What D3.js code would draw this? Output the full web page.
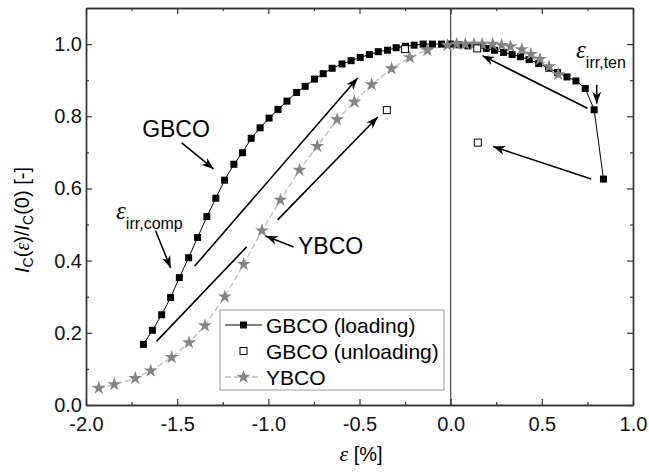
<!DOCTYPE html>
<html><head><meta charset="utf-8">
<script src="https://cdn.jsdelivr.net/npm/d3@7/dist/d3.min.js"></script>
<style>
body{margin:0;background:#fff;}
svg{display:block;font-family:"Liberation Sans",Arial,sans-serif;}
</style></head>
<body><svg id="c" width="649" height="472"></svg>
<script>
// ---- data ----
const gbcoLoadX = [-1.685,-1.636,-1.585,-1.536,-1.488,-1.437,-1.388,-1.337,-1.288,-1.240,-1.189,-1.142,-1.094,-1.045,-0.996,-0.947,-0.898,-0.845,-0.798,-0.747,-0.699,-0.650,-0.596,-0.546,-0.496,-0.446,-0.397,-0.346,-0.299,-0.248,-0.200,-0.151,-0.100,-0.050,0.000,0.045,0.095,0.145,0.195,0.240,0.290,0.337,0.383,0.430,0.483,0.537,0.586,0.638,0.687,0.738,0.787,0.838];
const gbcoLoadY = [0.168,0.207,0.250,0.298,0.353,0.408,0.464,0.522,0.573,0.623,0.667,0.699,0.739,0.768,0.795,0.819,0.842,0.866,0.883,0.903,0.918,0.933,0.945,0.954,0.963,0.971,0.979,0.983,0.990,0.994,0.997,1.000,1.000,1.000,1.000,0.998,0.995,0.990,0.988,0.983,0.977,0.971,0.965,0.957,0.946,0.933,0.921,0.909,0.898,0.877,0.818,0.626];
const gbcoUnloadX = [-0.350,-0.251,0.146,0.149];
const gbcoUnloadY = [0.817,0.986,0.988,0.727];
const ybcoX = [-1.930,-1.845,-1.730,-1.645,-1.530,-1.435,-1.348,-1.239,-1.135,-1.035,-0.934,-0.829,-0.732,-0.623,-0.528,-0.433,-0.324,-0.224,-0.127,-0.018,0.033,0.080,0.128,0.173,0.230,0.280,0.328,0.390,0.440,0.490,0.540,0.590];
const ybcoY = [0.047,0.057,0.074,0.095,0.132,0.173,0.220,0.300,0.390,0.483,0.568,0.651,0.717,0.791,0.840,0.888,0.932,0.963,0.983,0.997,1.000,1.000,1.000,1.000,1.000,0.997,0.993,0.985,0.972,0.958,0.938,0.916];
const xMajorTicks = [-2.0,-1.5,-1.0,-0.5,0.0,0.5,1.0];
const xMinorTicks = [-1.75,-1.25,-0.75,-0.25,0.25,0.75];
const yMajorTicks = [0.0,0.2,0.4,0.6,0.8,1.0];
const yMinorTicks = [0.1,0.3,0.5,0.7,0.9];
const legendLabels = ["GBCO (loading)","GBCO (unloading)","YBCO"];
// annotation arrows in data units [x1,y1,x2,y2,head]
const arrows = [
  [-1.404,0.385,-0.510,0.906,1],
  [-1.612,0.177,-1.119,0.438,0],
  [-0.949,0.513,-0.400,0.798,1],
  [0.750,0.822,0.174,0.968,1],
  [0.771,0.626,0.233,0.716,1],
  [-1.475,0.726,-1.300,0.654,1],
  [-1.618,0.482,-1.536,0.380,1],
  [-0.861,0.438,-1.015,0.468,1],
  [0.801,0.887,0.801,0.835,1]
];

const svg = d3.select("#c");
const x = d3.scaleLinear().domain([-2.0,1.0]).range([86,633]);
const y = d3.scaleLinear().domain([0,1.1]).range([405,8]);
const fmt = d => d.toFixed(1);

// marker
svg.append("defs").append("marker").attr("id","ah")
  .attr("markerUnits","userSpaceOnUse").attr("orient","auto")
  .attr("markerWidth",14).attr("markerHeight",12)
  .attr("viewBox","-12 -6 14 12").attr("refX",0).attr("refY",0)
  .append("path").attr("d","M0,0 L-12,-4.5 L-8.5,0 L-12,4.5 Z").attr("fill","#000");

// vertical zero line
svg.append("line").attr("x1",x(0)).attr("x2",x(0)).attr("y1",y(0)).attr("y2",y(1.1))
  .attr("stroke","#444").attr("stroke-width",1.2);

// axes
function styleAxis(g){
  g.selectAll("path.domain").attr("stroke","#333").attr("stroke-width",1.4);
  g.selectAll(".tick line").attr("stroke","#333").attr("stroke-width",1.2);
  g.selectAll("text").attr("font-size",20).attr("fill","#111").attr("font-family","Liberation Sans, Arial, sans-serif");
}
svg.append("g").attr("transform",`translate(0,${y(0)})`)
  .call(d3.axisBottom(x).tickValues(xMajorTicks).tickSize(-6).tickSizeOuter(0).tickPadding(12).tickFormat(fmt)).call(styleAxis);
svg.append("g").attr("transform",`translate(0,${y(0)})`)
  .call(d3.axisBottom(x).tickValues(xMinorTicks).tickSize(-3).tickSizeOuter(0).tickFormat("")).call(styleAxis);
svg.append("g").attr("transform",`translate(0,${y(1.1)})`)
  .call(d3.axisTop(x).tickValues(xMajorTicks).tickSize(-6).tickSizeOuter(0).tickFormat("")).call(styleAxis);
svg.append("g").attr("transform",`translate(0,${y(1.1)})`)
  .call(d3.axisTop(x).tickValues(xMinorTicks).tickSize(-3).tickSizeOuter(0).tickFormat("")).call(styleAxis);
svg.append("g").attr("transform",`translate(${x(-2)},0)`)
  .call(d3.axisLeft(y).tickValues(yMajorTicks).tickSize(-6).tickSizeOuter(0).tickPadding(4).tickFormat(fmt)).call(styleAxis);
svg.append("g").attr("transform",`translate(${x(-2)},0)`)
  .call(d3.axisLeft(y).tickValues(yMinorTicks).tickSize(-3).tickSizeOuter(0).tickFormat("")).call(styleAxis);
svg.append("g").attr("transform",`translate(${x(1)},0)`)
  .call(d3.axisRight(y).tickValues(yMajorTicks).tickSize(-6).tickSizeOuter(0).tickFormat("")).call(styleAxis);
svg.append("g").attr("transform",`translate(${x(1)},0)`)
  .call(d3.axisRight(y).tickValues(yMinorTicks).tickSize(-3).tickSizeOuter(0).tickFormat("")).call(styleAxis);

// data
const ybco = ybcoX.map((v,i)=>[v,ybcoY[i]]);
const gl = gbcoLoadX.map((v,i)=>[v,gbcoLoadY[i]]);
const gu = gbcoUnloadX.map((v,i)=>[v,gbcoUnloadY[i]]);
const line = d3.line().x(d=>x(d[0])).y(d=>y(d[1]));
const star = d3.symbol().type(d3.symbolStar).size(60);

svg.append("path").datum(ybco).attr("d",line).attr("fill","none")
  .attr("stroke","#bdbdbd").attr("stroke-width",1.3).attr("stroke-dasharray","6,3");
svg.append("path").datum(gl).attr("d",line).attr("fill","none")
  .attr("stroke","#000").attr("stroke-width",1);
svg.append("g").selectAll("rect").data(gl).join("rect")
  .attr("x",d=>x(d[0])-3.5).attr("y",d=>y(d[1])-3.5).attr("width",7).attr("height",7).attr("fill","#000");
svg.append("g").selectAll("path").data(ybco).join("path")
  .attr("transform",d=>`translate(${x(d[0])},${y(d[1])})`).attr("d",star).attr("fill","#848484");
svg.append("g").selectAll("rect").data(gu).join("rect")
  .attr("x",d=>x(d[0])-3.5).attr("y",d=>y(d[1])-3.5).attr("width",7).attr("height",7)
  .attr("fill","#fff").attr("stroke","#000").attr("stroke-width",1);

// arrows
svg.append("g").selectAll("line").data(arrows).join("line")
  .attr("x1",d=>x(d[0])).attr("y1",d=>y(d[1])).attr("x2",d=>x(d[2])).attr("y2",d=>y(d[3]))
  .attr("stroke","#000").attr("stroke-width",1.6)
  .attr("marker-end",d=>d[4]?"url(#ah)":null);

// annotation labels
svg.append("text").attr("x",176).attr("y",137).attr("text-anchor","middle").attr("font-size",23).text("GBCO");
svg.append("text").attr("x",298).attr("y",254).attr("font-size",23).text("YBCO");
const e1 = svg.append("text").attr("x",116).attr("y",219);
e1.append("tspan").attr("font-family","Liberation Serif, serif").attr("font-style","italic").attr("font-size",25).text("ε");
e1.append("tspan").attr("font-size",16).attr("dy",10).text("irr,comp");
const e2 = svg.append("text").attr("x",576).attr("y",58);
e2.append("tspan").attr("font-family","Liberation Serif, serif").attr("font-style","italic").attr("font-size",25).text("ε");
e2.append("tspan").attr("font-size",16).attr("dy",10).text("irr,ten");

// axis titles
const xt = svg.append("text").attr("x",361).attr("y",461).attr("text-anchor","middle").attr("font-size",20);
xt.append("tspan").attr("font-family","Liberation Serif, serif").attr("font-style","italic").attr("font-size",22).text("ε");
xt.append("tspan").text(" [%]");
const yt = svg.append("text").attr("transform","translate(29,220) rotate(-90)").attr("text-anchor","middle").attr("font-size",20);
yt.append("tspan").attr("font-style","italic").text("I");
yt.append("tspan").attr("font-size",14).attr("dy",4).text("C");
yt.append("tspan").attr("dy",-4).text("(");
yt.append("tspan").attr("font-family","Liberation Serif, serif").attr("font-style","italic").text("ε");
yt.append("tspan").text(")/");
yt.append("tspan").attr("font-style","italic").text("I");
yt.append("tspan").attr("font-size",14).attr("dy",4).text("C");
yt.append("tspan").attr("dy",-4).text("(0) [-]");

// legend
const lg = svg.append("g");
lg.append("rect").attr("x",220).attr("y",310).attr("width",224).attr("height",80)
  .attr("fill","#fff").attr("stroke","#999").attr("stroke-width",1);
const rowY = [325,351,377];
legendLabels.forEach((t,i)=>{
  const cy = rowY[i];
  if(i===0){
    lg.append("line").attr("x1",225).attr("x2",262).attr("y1",cy).attr("y2",cy).attr("stroke","#000").attr("stroke-width",1.2);
    lg.append("rect").attr("x",243.5-3.5).attr("y",cy-3.5).attr("width",7).attr("height",7).attr("fill","#000");
  } else if(i===1){
    lg.append("rect").attr("x",243.5-3.5).attr("y",cy-3.5).attr("width",7).attr("height",7).attr("fill","#fff").attr("stroke","#000");
  } else {
    lg.append("line").attr("x1",225).attr("x2",262).attr("y1",cy).attr("y2",cy).attr("stroke","#bdbdbd").attr("stroke-width",1.3).attr("stroke-dasharray","6,3");
    lg.append("path").attr("transform",`translate(243.5,${cy})`).attr("d",star).attr("fill","#848484");
  }
  lg.append("text").attr("x",266).attr("y",cy+7.5).attr("font-size",21).text(t);
});
</script></body></html>
